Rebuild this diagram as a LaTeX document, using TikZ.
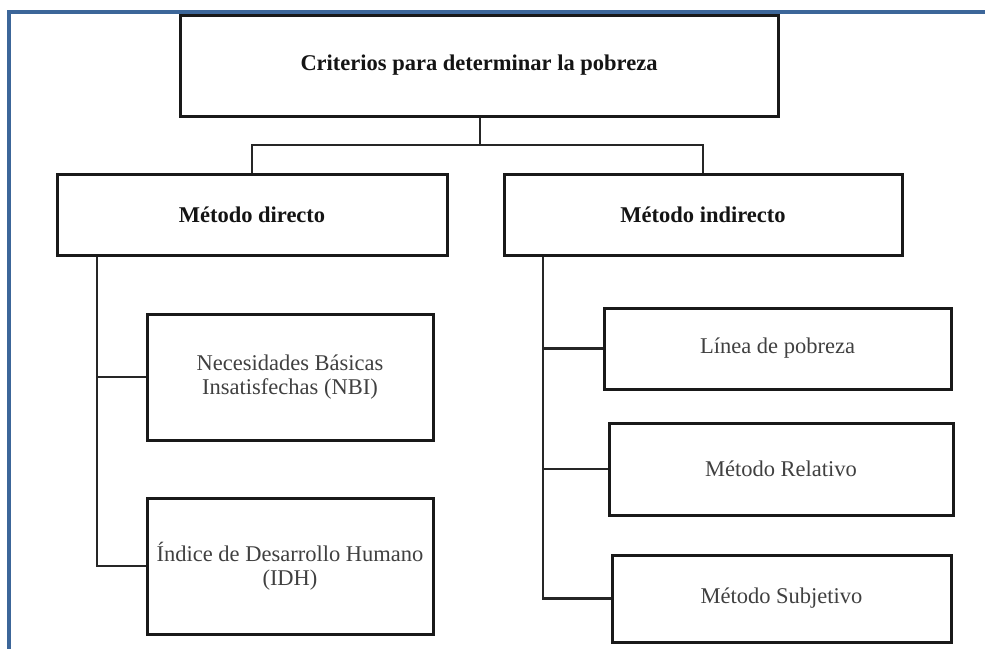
\documentclass[tikz,border=0pt]{standalone}
\usepackage{fontspec}
\setmainfont{Liberation Serif}
\definecolor{framblue}{RGB}{60,102,153}
\begin{document}
\begin{tikzpicture}[x=1pt,y=-1pt,
  box/.style={draw=black!90, line width=3pt, fill=white, inner sep=0pt, align=center,
    font=\fontsize{22.5}{24}\selectfont, text=black!75},
  head/.style={box, font=\fontsize{22.5}{24}\selectfont\bfseries, text=black!92},
  link/.style={draw=black!85, line width=2.2pt}]
\useasboundingbox (0,0) rectangle (985,648);
\draw[framblue, line width=4pt] (8.5,650) -- (8.5,12) -- (987,12);

\node[head, minimum width=598pt, minimum height=101pt] (top) at (479,65.5) {Criterios para determinar la pobreza};
\node[head, minimum width=390pt, minimum height=81pt] (dir) at (252,214.5) {Método directo};
\node[head, minimum width=398pt, minimum height=81pt] (ind) at (703,214.5) {Método indirecto};
\node[box, minimum width=286pt, minimum height=126pt] (nbi) at (290,377) {Necesidades Básicas\\Insatisfechas (NBI)};
\node[box, minimum width=286pt, minimum height=136pt] (idh) at (290,566) {Índice de Desarrollo Humano\\(IDH)};
\node[box, minimum width=347pt, minimum height=81pt] (lp) at (777.5,348.5) {Línea de pobreza};
\node[box, minimum width=344pt, minimum height=92pt] (mr) at (781,469) {Método Relativo};
\node[box, minimum width=339pt, minimum height=87pt] (ms) at (781.5,598.5) {Método Subjetivo};

\coordinate (j) at (480,145);
\coordinate (lt) at (97,0);
\coordinate (rt) at (543,0);
\draw[link] (top.south -| j) -- (j);
\draw[link] (dir.north) |- (j) -| (ind.north);
\draw[link] (dir.south -| lt) |- (idh.west);
\draw[link] (nbi.west -| lt) -- (nbi.west);
\draw[link] (ind.south -| rt) |- (ms.west);
\draw[link] (lp.west -| rt) -- (lp.west);
\draw[link] (mr.west -| rt) -- (mr.west);
\end{tikzpicture}
\end{document}
